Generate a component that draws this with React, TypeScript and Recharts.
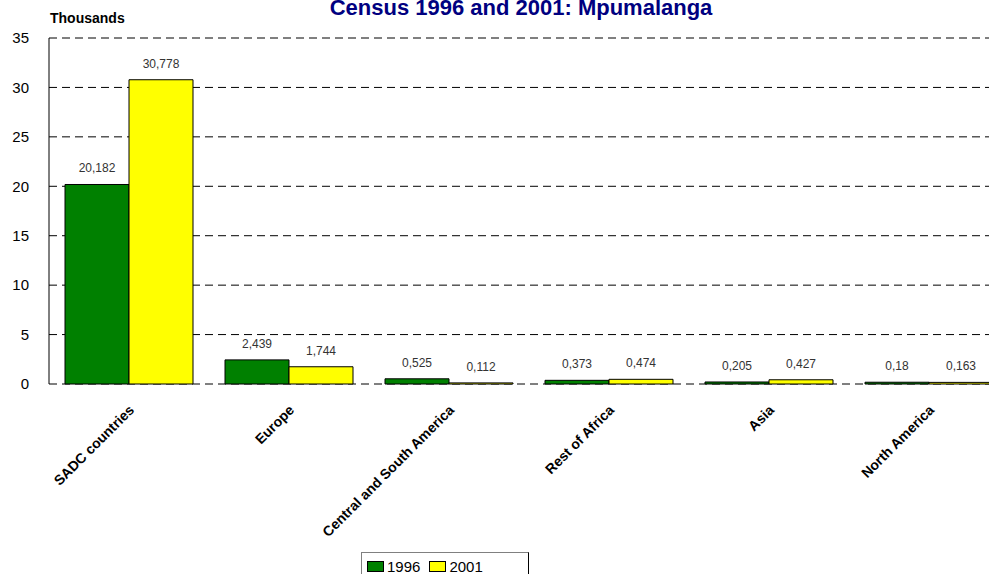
import { Bar, BarChart, CartesianGrid, LabelList, XAxis, YAxis } from "recharts";

const categories = ["SADC countries", "Europe", "Central and South America", "Rest of Africa", "Asia", "North America"];
const values1996 = [20.182, 2.439, 0.525, 0.373, 0.205, 0.18];
const values2001 = [30.778, 1.744, 0.112, 0.474, 0.427, 0.163];
const yTicks = [0, 5, 10, 15, 20, 25, 30, 35];

const data = categories.map((name, i) => ({ name, y1996: values1996[i], y2001: values2001[i] }));

const FONT = "'Liberation Sans', Arial, sans-serif";

const fmt = (v: any) => String(v).replace(".", ",");

function CategoryTick({ x, y, payload }: any) {
  return (
    <g transform={`translate(${x + 6},${y + 19})`}>
      <text textAnchor="end" transform="rotate(-45)" fontSize={14} fontWeight="bold" fill="#000" fontFamily={FONT}>
        {payload.value}
      </text>
    </g>
  );
}

export default function App() {
  return (
    <div style={{ position: "absolute", left: 0, top: 0, width: 989, height: 574, overflow: "hidden", background: "#fff", fontFamily: FONT }}>
      <div style={{ position: "absolute", left: 0, width: 1042, top: -5, textAlign: "center", fontSize: 22, fontWeight: "bold", color: "#000080" }}>
        Census 1996 and 2001: Mpumalanga
      </div>
      <div style={{ position: "absolute", left: 50, top: 10, fontSize: 14, fontWeight: "bold", color: "#000" }}>Thousands</div>
      <BarChart
        width={1020}
        height={574}
        data={data}
        margin={{ top: 38, right: 11, left: 0, bottom: 0 }}
        barCategoryGap="10%"
        barGap={0}
      >
        <CartesianGrid vertical={false} stroke="#000" strokeDasharray="8 5" />
        <XAxis dataKey="name" height={190} interval={0} axisLine={false} tickLine={false} tick={<CategoryTick />} />
        <YAxis
          width={49}
          domain={[0, 35]}
          ticks={yTicks}
          tickLine={false}
          axisLine={{ stroke: "#000" }}
          tick={{ fontSize: 15, fill: "#000", fontFamily: FONT }}
          tickMargin={14}
        />
        <Bar dataKey="y1996" fill="#008000" stroke="#000" strokeWidth={1} isAnimationActive={false}>
          <LabelList dataKey="y1996" position="top" offset={12} formatter={fmt} style={{ fontSize: 12, fill: "#333", fontFamily: FONT }} />
        </Bar>
        <Bar dataKey="y2001" fill="#ffff00" stroke="#000" strokeWidth={1} isAnimationActive={false}>
          <LabelList dataKey="y2001" position="top" offset={12} formatter={fmt} style={{ fontSize: 12, fill: "#333", fontFamily: FONT }} />
        </Bar>
      </BarChart>
      <div
        style={{
          position: "absolute",
          left: 361,
          top: 552,
          width: 168,
          height: 30,
          border: "1px solid #000",
          borderColor: "#808080 #000 #000 #808080",
          boxSizing: "border-box",
          display: "flex",
          alignItems: "flex-start",
          paddingLeft: 5,
          paddingTop: 6,
          fontSize: 15,
          lineHeight: "15px",
          color: "#000",
        }}
      >
        <span style={{ width: 15, height: 9, background: "#008000", border: "1px solid #000", marginTop: 2, marginRight: 3 }} />
        <span style={{ marginRight: 9 }}>1996</span>
        <span style={{ width: 15, height: 9, background: "#ffff00", border: "1px solid #000", marginTop: 2, marginRight: 3 }} />
        <span>2001</span>
      </div>
    </div>
  );
}
